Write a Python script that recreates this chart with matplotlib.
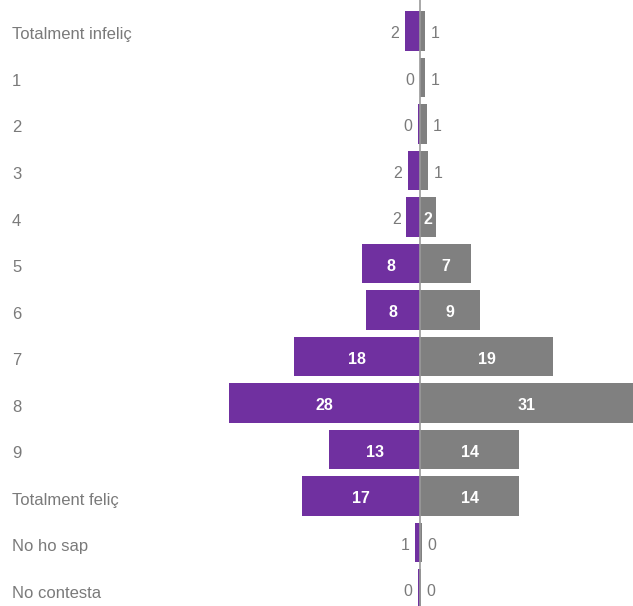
import matplotlib.pyplot as plt
import numpy as np

plt.rcParams['font.family'] = ['Liberation Sans', 'DejaVu Sans']

categories = ['Totalment infeliç', '1', '2', '3', '4', '5', '6', '7', '8', '9',
              'Totalment feliç', 'No ho sap', 'No contesta']
# share per answer (labels show rounded values)
left_vals = [2.2, 0.0, 0.3, 1.8, 2.0, 8.4, 7.9, 18.4, 27.9, 13.2, 17.2, 0.7, 0.3]
right_vals = [0.7, 0.75, 1.0, 1.2, 2.4, 7.4, 8.8, 19.45, 31.0, 14.45, 14.45, 0.3, 0.2]

purple = '#7030a0'
grey = '#808080'
txt = '#7a7a7a'

fig = plt.figure(figsize=(6.33, 6.06), dpi=100)
# axes spans x px 200..633, full height
ax = fig.add_axes([200 / 633, 0, 433 / 633, 1])

y = np.arange(len(categories))
ax.barh(y, -np.array(left_vals), height=0.84, color=purple)
ax.barh(y, right_vals, height=0.84, color=grey)
ax.axvline(0, color='#9a9a9a', lw=1.2, zorder=3)

ax.set_xlim(-220 / 6.86, 213 / 6.86)
ax.set_ylim((606 - 31) / 46.5, -31 / 46.5)
ax.axis('off')

fs = 11.5
dy = 0.06
for i, (lv, rv) in enumerate(zip(left_vals, right_vals)):
    lab = str(int(round(lv)))
    if lv >= 2.3:
        ax.text(-lv / 2, i + dy, lab, ha='center', va='center', color='white',
                fontsize=fs, fontweight='bold')
    else:
        ax.text(-lv - 0.8, i + dy, lab, ha='right', va='center', color=txt,
                fontsize=fs)
    lab = str(int(round(rv)))
    if rv >= 2.3:
        ax.text(rv / 2, i + dy, lab, ha='center', va='center', color='white',
                fontsize=fs, fontweight='bold')
    else:
        ax.text(rv + 0.8, i + dy, lab, ha='left', va='center', color=txt,
                fontsize=fs)

# category labels at the left edge
for i, c in enumerate(categories):
    fig.text(12 / 633, 1 - (31 + 46.5 * i + 4) / 606, c, ha='left', va='center',
             color=txt, fontsize=12)

plt.savefig('out.png', dpi=100)
